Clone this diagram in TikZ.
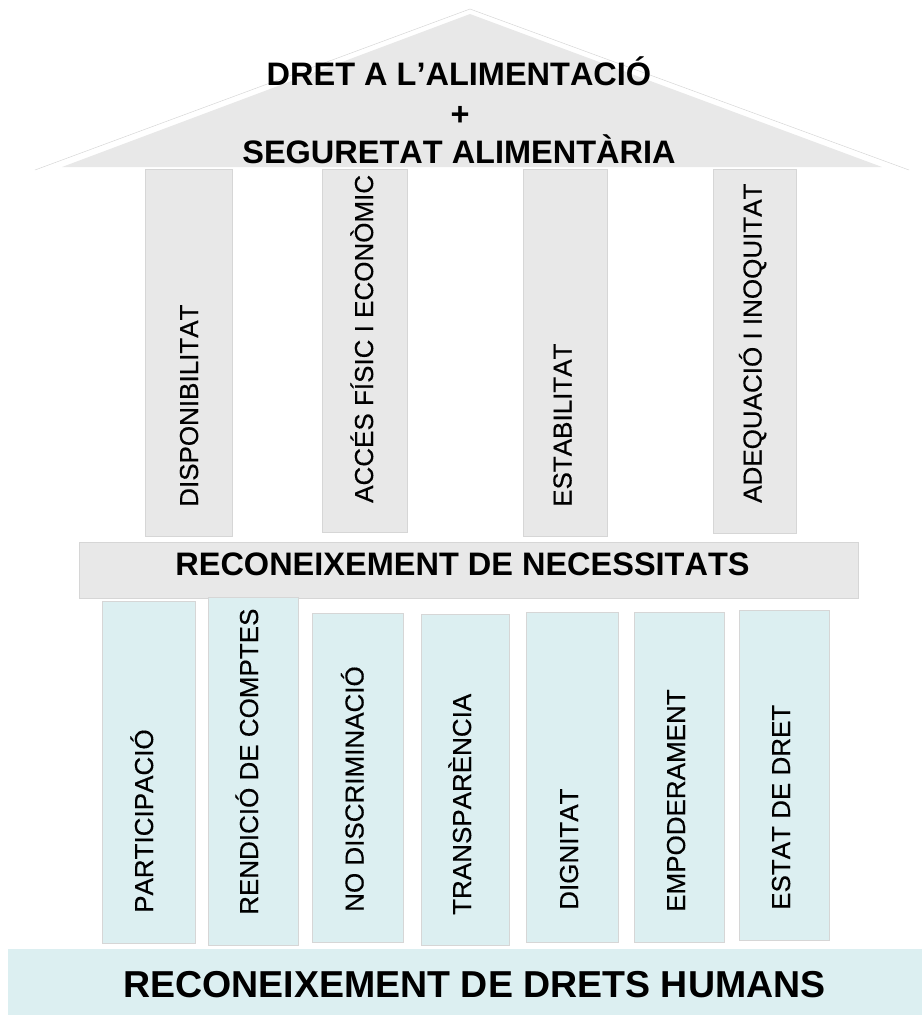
\documentclass[tikz,border=0pt]{standalone}
\usepackage{fontspec}
\setmainfont{Liberation Sans}[Kerning=Off]
\newfontfamily\labelfont{Liberation Sans}[Kerning=Off, FakeBold=0.35]
\definecolor{roofgray}{HTML}{E8E8E8}
\definecolor{basebl}{HTML}{DCEFF1}
\definecolor{edgegray}{HTML}{D6D6D6}
\begin{document}
\begin{tikzpicture}[x=1pt,y=-1pt,
  box/.style={draw=edgegray, line width=0.6pt, inner sep=0pt, anchor=north west},
  upper/.style={box, fill=roofgray},
  lower/.style={box, fill=basebl},
  lbl/.style={rotate=90, anchor=base west, inner sep=0pt, font=\labelfont\fontsize{26}{30}\selectfont},
  title/.style={anchor=base, inner sep=0pt, font=\bfseries\fontsize{32.5}{38}\selectfont}]
\useasboundingbox (0,0) rectangle (922,1015);
% roof
\draw[edgegray, line width=0.5pt] (35,170) -- (470,9) -- (909,170);
\fill[roofgray] (62,167) -- (470,14) -- (882,167) -- cycle;
\node[title] (t1) at (459,85) {DRET A L’ALIMENTACIÓ};
\node[title, anchor=center] (t2) at (460,116) {+};
\node[title] (t3) at (459,163) {SEGURETAT ALIMENTÀRIA};
% upper pillars
\node[upper, minimum width=87pt, minimum height=367pt] (u1) at (145,169) {};
\node[upper, minimum width=85pt, minimum height=363pt] (u2) at (322,169) {};
\node[upper, minimum width=84pt, minimum height=367pt] (u3) at (523,169) {};
\node[upper, minimum width=83pt, minimum height=364pt] (u4) at (713,169) {};
\node[lbl] (lu1) at (198,507) {DISPONIBILITAT};
\node[lbl] (lu2) at (373,503) {ACCÉS FÍSIC I ECONÒMIC};
\node[lbl] (lu3) at (571.5,507) {ESTABILITAT};
\node[lbl] (lu4) at (761.5,503) {ADEQUACIÓ I INOQUITAT};
% middle band
\node[upper, minimum width=779pt, minimum height=56pt] (mid) at (79,542) {};
\node[title] (tmid) at (462.5,575) {RECONEIXEMENT DE NECESSITATS};
% lower pillars
\node[lower, minimum width=93pt, minimum height=342pt] (p1) at (102,601) {};
\node[lower, minimum width=90pt, minimum height=348pt] (p2) at (208,597) {};
\node[lower, minimum width=91pt, minimum height=329pt] (p3) at (312,613) {};
\node[lower, minimum width=88pt, minimum height=331pt] (p4) at (421,614) {};
\node[lower, minimum width=92pt, minimum height=330pt] (p5) at (526,612) {};
\node[lower, minimum width=90pt, minimum height=330pt] (p6) at (634,612) {};
\node[lower, minimum width=90pt, minimum height=330pt] (p7) at (739,610) {};
\node[lbl] (lp1) at (153,913) {PARTICIPACIÓ};
\node[lbl] (lp2) at (258,915) {RENDICIÓ DE COMPTES};
\node[lbl] (lp3) at (363.5,912) {NO DISCRIMINACIÓ};
\node[lbl] (lp4) at (471,915) {TRANSPARÈNCIA};
\node[lbl] (lp5) at (578,910) {DIGNITAT};
\node[lbl] (lp6) at (685,912) {EMPODERAMENT};
\node[lbl] (lp7) at (790,910) {ESTAT DE DRET};
% base band
\node[lower, draw=none, minimum width=914pt, minimum height=67pt] (base) at (8,949) {};
\node[title, font=\bfseries\fontsize{37.5}{44}\selectfont] (tbase) at (474.5,997) {RECONEIXEMENT DE DRETS HUMANS};
\end{tikzpicture}
\end{document}
